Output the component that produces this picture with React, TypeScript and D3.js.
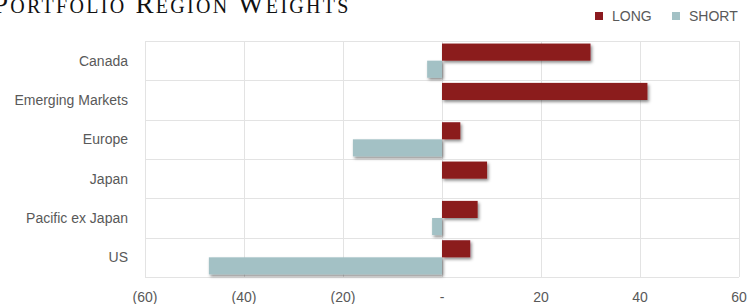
import { useEffect, useRef } from 'react';
import * as d3 from 'd3';

const regions = ['Canada', 'Emerging Markets', 'Europe', 'Japan', 'Pacific ex Japan', 'US'];
const longWeights = [30.0, 41.5, 3.7, 9.1, 7.2, 5.7];
const shortWeights = [-3.0, 0, -18.0, 0, -2.0, -47.1];
const xTicks = [-60, -40, -20, 0, 20, 40, 60];
const titleWords = ['Portfolio', 'Region', 'Weights'];

const LONG_COLOR = '#8b1a1f';
const SHORT_COLOR = '#a3c1c5';

export default function App() {
    const ref = useRef<SVGSVGElement>(null);

    useEffect(() => {
        if (!ref.current) return;
        const svg = d3.select(ref.current);
        svg.selectAll('*').remove();

        const width = 749;
        const height = 304;
        const margin = { top: 41, right: 10, bottom: 27, left: 145 };

        svg.attr('width', width).attr('height', height);

        const defs = svg.append('defs');
        const filter = defs.append('filter')
            .attr('id', 'barShadow')
            .attr('x', '-20%').attr('y', '-40%')
            .attr('width', '140%').attr('height', '180%');
        filter.append('feDropShadow')
            .attr('dx', 1.5).attr('dy', 2)
            .attr('stdDeviation', 1.5)
            .attr('flood-color', '#000')
            .attr('flood-opacity', 0.45);

        const x = d3.scaleLinear()
            .domain([-60, 60])
            .range([margin.left, width - margin.right]);

        const y = d3.scaleBand()
            .domain(regions)
            .range([margin.top, height - margin.bottom])
            .paddingInner(0)
            .paddingOuter(0);

        const sub = d3.scaleBand()
            .domain(['long', 'short'])
            .range([0, y.bandwidth()])
            .paddingOuter(0.15)
            .paddingInner(0);

        // Title, small caps built by hand (top is clipped by the frame, as in the original)
        const title = svg.append('text')
            .attr('x', -7)
            .attr('y', 13)
            .attr('fill', '#111')
            .attr('font-family', '"Liberation Serif", "DejaVu Serif", serif')
            .attr('letter-spacing', '2.3px');
        titleWords.forEach((w, i) => {
            title.append('tspan')
                .attr('font-size', '27px')
                .text((i > 0 ? ' ' : '') + w[0].toUpperCase());
            title.append('tspan')
                .attr('font-size', '20px')
                .text(w.slice(1).toUpperCase());
        });

        // Legend
        const legend = svg.append('g').attr('font-family', '"Liberation Sans", Arial, sans-serif')
            .attr('font-size', '14px').attr('fill', '#595959');
        const items = [
            { label: 'LONG', color: LONG_COLOR, x: 595 },
            { label: 'SHORT', color: SHORT_COLOR, x: 672 },
        ];
        items.forEach(it => {
            legend.append('rect')
                .attr('x', it.x).attr('y', 12)
                .attr('width', 8).attr('height', 8)
                .attr('fill', it.color);
            legend.append('text')
                .attr('x', it.x + 17).attr('y', 21)
                .text(it.label);
        });

        // Grid
        const grid = svg.append('g').attr('stroke', '#e3e3e3').attr('stroke-width', 1);
        xTicks.forEach(t => {
            grid.append('line')
                .attr('x1', Math.round(x(t)) + 0.5).attr('x2', Math.round(x(t)) + 0.5)
                .attr('y1', margin.top).attr('y2', height - margin.bottom);
        });
        regions.forEach(r => {
            grid.append('line')
                .attr('x1', margin.left).attr('x2', width - margin.right)
                .attr('y1', Math.round(y(r)!) + 0.5).attr('y2', Math.round(y(r)!) + 0.5);
        });
        grid.append('line')
            .attr('x1', margin.left).attr('x2', width - margin.right)
            .attr('y1', height - margin.bottom + 0.5).attr('y2', height - margin.bottom + 0.5);

        // Bars
        const bars = svg.append('g').attr('filter', 'url(#barShadow)');
        regions.forEach((r, i) => {
            const lv = longWeights[i];
            const sv = shortWeights[i];
            bars.append('rect')
                .attr('x', x(Math.min(0, lv)))
                .attr('y', y(r)! + sub('long')!)
                .attr('width', Math.abs(x(lv) - x(0)))
                .attr('height', sub.bandwidth())
                .attr('fill', LONG_COLOR);
            bars.append('rect')
                .attr('x', x(Math.min(0, sv)))
                .attr('y', y(r)! + sub('short')!)
                .attr('width', Math.abs(x(sv) - x(0)))
                .attr('height', sub.bandwidth())
                .attr('fill', SHORT_COLOR);
        });

        // Category labels
        svg.append('g')
            .attr('font-family', '"Liberation Sans", Arial, sans-serif')
            .attr('font-size', '14px')
            .attr('fill', '#595959')
            .attr('text-anchor', 'end')
            .selectAll('text')
            .data(regions)
            .join('text')
            .attr('x', 128)
            .attr('y', d => y(d)! + y.bandwidth() / 2)
            .attr('dy', '0.35em')
            .text(d => d);

        // X tick labels
        const fmt = (v: number) => (v === 0 ? '-' : v < 0 ? `(${Math.abs(v)})` : `${v}`);
        svg.append('g')
            .attr('font-family', '"Liberation Sans", Arial, sans-serif')
            .attr('font-size', '14px')
            .attr('fill', '#595959')
            .attr('text-anchor', 'middle')
            .selectAll('text')
            .data(xTicks)
            .join('text')
            .attr('x', d => x(d))
            .attr('y', 302)
            .text(d => fmt(d));
    }, []);

    return <svg ref={ref} style={{ position: 'absolute', left: 0, top: 0, display: 'block' }} />;
}
